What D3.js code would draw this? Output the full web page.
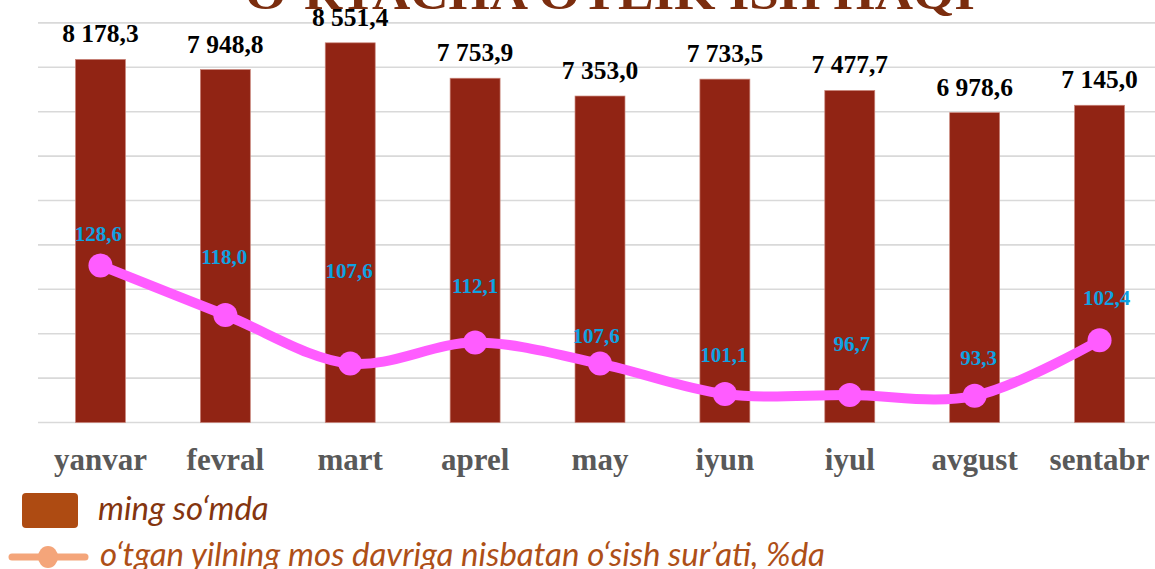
<!DOCTYPE html>
<html><head><meta charset="utf-8">
<script src="https://cdn.jsdelivr.net/npm/d3@7"></script>
<style>body{margin:0;background:#fff;overflow:hidden} svg{display:block}</style>
</head><body>
<script>
// ---- data ----
const titleText = "O‘RTACHA OYLIK ISH HAQI";
const months = ["yanvar", "fevral", "mart", "aprel", "may", "iyun", "iyul", "avgust", "sentabr"];
const wages = [8178.3, 7948.8, 8551.4, 7753.9, 7353.0, 7733.5, 7477.7, 6978.6, 7145.0];
const growthRates = [128.6, 118.0, 107.6, 112.1, 107.6, 101.1, 96.7, 93.3, 102.4];   // printed labels
const growthDrawn = [128.6, 118.0, 107.6, 112.1, 107.6, 101.1, 100.9, 100.7, 112.6]; // line as drawn on secondary axis
const growthLabelLift = [31, 58, 93, 57, 28, 39, 51, 38, 42]; // manual label nudges above marker
const growthLabelShift = [-2, -1, -1, 0, -4, -1, 2, 4, 7];
const wageTicks = [0, 1000, 2000, 3000, 4000, 5000, 6000, 7000, 8000, 9000, 10000];
const legendLabels = ["ming so‘mda", "o‘tgan yilning mos davriga nisbatan o‘sish sur’ati, %da"];

// ---- layout ----
const W = 1155, H = 569;
const svg = d3.select("body").append("svg").attr("width", W).attr("height", H);
const fmt = d3.formatLocale({decimal: ",", thousands: " ", grouping: [3], currency: ["", ""]}).format(",.1f");

const x = d3.scaleBand().domain(months).range([38, 1162]).paddingInner(0.6).paddingOuter(0.3);
const y = d3.scaleLinear().domain([0, 10000]).range([422.5, -21.5]);
const y2 = d3.scaleLinear().domain([95, 190]).range([422.5, -21.5]);
const cx = m => x(m) + x.bandwidth() / 2;

// title (cut off at top)
svg.append("text").attr("x", 610).attr("y", 9)
  .attr("text-anchor", "middle")
  .attr("textLength", 730).attr("lengthAdjust", "spacingAndGlyphs")
  .style("font-family", "'Liberation Serif', serif").style("font-weight", "bold")
  .style("font-size", "46px").style("fill", "#7B2D0E").text(titleText);

// gridlines
svg.append("g").selectAll("line").data(wageTicks).join("line")
  .attr("x1", 38).attr("x2", W).attr("y1", d => y(d)).attr("y2", d => y(d))
  .attr("stroke", "#D9D9D9").attr("stroke-width", 1.6);

// bars
svg.append("g").selectAll("rect").data(wages).join("rect")
  .attr("x", (d, i) => x(months[i])).attr("width", x.bandwidth())
  .attr("y", d => y(d)).attr("height", d => y(0) - y(d))
  .attr("fill", "#912414").attr("stroke", "#C98479").attr("stroke-width", 0.7);

// bar value labels
svg.append("g").selectAll("text").data(wages).join("text")
  .attr("x", (d, i) => cx(months[i])).attr("y", d => y(d) - 17)
  .attr("text-anchor", "middle")
  .style("font-family", "'Liberation Serif', serif").style("font-weight", "bold")
  .style("font-size", "25.5px").style("fill", "#000").text(d => fmt(d));

// growth line
const pts = growthDrawn.map((v, i) => [cx(months[i]), y2(v)]);
svg.append("path").datum(pts)
  .attr("d", d3.line().curve(d3.curveCatmullRom.alpha(0.5)))
  .attr("fill", "none").attr("stroke", "#FF5CFF").attr("stroke-width", 10).attr("stroke-linecap", "round");
svg.append("g").selectAll("circle").data(pts).join("circle")
  .attr("cx", d => d[0]).attr("cy", d => d[1]).attr("r", 12).attr("fill", "#FF5CFF");

// growth labels
svg.append("g").selectAll("text").data(growthRates).join("text")
  .attr("x", (d, i) => cx(months[i]) + growthLabelShift[i])
  .attr("y", (d, i) => y2(growthDrawn[i]) - growthLabelLift[i] + 7)
  .attr("text-anchor", "middle")
  .style("font-family", "'Liberation Serif', serif").style("font-weight", "bold")
  .style("font-size", "21px").style("fill", "#0EA2E2").text(d => fmt(d));

// category axis labels
svg.append("g").selectAll("text").data(months).join("text")
  .attr("x", d => cx(d)).attr("y", 470)
  .attr("text-anchor", "middle")
  .style("font-family", "'Liberation Serif', serif").style("font-weight", "bold")
  .style("font-size", "31px").style("fill", "#595959").text(d => d);

// legend
const lg = svg.append("g");
lg.append("rect").attr("x", 22).attr("y", 493).attr("width", 56).attr("height", 35).attr("rx", 4)
  .attr("fill", "#AE4B12");
lg.append("text").attr("x", 98).attr("y", 520)
  .style("font-family", "Lato, sans-serif").style("font-style", "italic")
  .style("font-size", "33px").style("fill", "#84350F").text(legendLabels[0]);
lg.append("line").attr("x1", 12).attr("x2", 85).attr("y1", 557).attr("y2", 557)
  .attr("stroke", "#F4A57A").attr("stroke-width", 7).attr("stroke-linecap", "round");
lg.append("ellipse").attr("cx", 48).attr("cy", 557).attr("rx", 10).attr("ry", 11).attr("fill", "#F4A57A");
lg.append("text").attr("x", 100).attr("y", 566)
  .style("font-family", "Lato, sans-serif").style("font-style", "italic")
  .style("font-size", "33px").style("fill", "#AE4F17").text(legendLabels[1]);
</script>
</body></html>
